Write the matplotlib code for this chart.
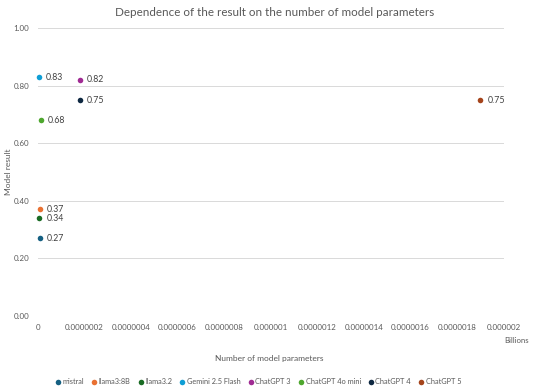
import matplotlib.pyplot as plt
from matplotlib.ticker import FixedLocator, FixedFormatter

plt.rcParams['font.family'] = ['Lato', 'DejaVu Sans']

# Modelle, Parameter (in Billions, skaliert wie im Original) und Ergebnisse
models = ['mistral', 'llama3:8B', 'llama3.2', 'Gemini 2.5 Flash', 'ChatGPT 3',
          'ChatGPT 4o mini', 'ChatGPT 4', 'ChatGPT 5']
params = [8e-9, 8e-9, 7e-9, 6e-9, 1.8e-7, 1.5e-8, 1.8e-7, 1.9e-6]
results = [0.27, 0.37, 0.34, 0.83, 0.82, 0.68, 0.75, 0.75]
colors = ['#156082', '#E97132', '#196B24', '#0F9ED5', '#A02B93',
          '#4EA72E', '#0E2841', '#A5441B']

x_ticks = [0, 2e-7, 4e-7, 6e-7, 8e-7, 1e-6, 1.2e-6, 1.4e-6, 1.6e-6, 1.8e-6, 2e-6]
x_labels = ['0', '0.0000002', '0.0000004', '0.0000006', '0.0000008', '0.000001',
            '0.0000012', '0.0000014', '0.0000016', '0.0000018', '0.000002']
y_ticks = [0, 0.2, 0.4, 0.6, 0.8, 1.0]
y_labels = ['0.00', '0.20', '0.40', '0.60', '0.80', '1.00']

fig = plt.figure(figsize=(5.5, 3.91), dpi=100)
ax = fig.add_axes([0.0685, 0.192, 0.8475, 0.736])

for name, xv, yv, c in zip(models, params, results, colors):
    ax.scatter([xv], [yv], s=16, color=c, label=name, zorder=3, linewidths=0,
               clip_on=False)
    ax.annotate(f'{yv:.2f}', (xv, yv), xytext=(5, 0), textcoords='offset points',
                va='center', ha='left', fontsize=6.3, color='#404040')

ax.set_xlim(0, 2e-6)
ax.set_ylim(0, 1.0)
ax.xaxis.set_major_locator(FixedLocator(x_ticks))
ax.xaxis.set_major_formatter(FixedFormatter(x_labels))
ax.yaxis.set_major_locator(FixedLocator(y_ticks))
ax.yaxis.set_major_formatter(FixedFormatter(y_labels))
ax.tick_params(length=0, labelsize=5.7, colors='#595959', pad=6)
ax.grid(axis='y', color='#d9d9d9', linewidth=0.7)
ax.set_axisbelow(True)
for s in ax.spines.values():
    s.set_visible(False)

fig.suptitle('Dependence of the result on the number of model parameters',
             y=0.982, fontsize=8.4, color='#595959')
fig.text(0.015, 0.56, 'Model result', rotation=90, ha='center', va='center',
         fontsize=6, color='#595959')
fig.text(0.49, 0.083, 'Number of model parameters', ha='center', va='center',
         fontsize=6, color='#595959')
fig.text(0.94, 0.13, 'Billions', ha='center', va='center',
         fontsize=5.6, color='#595959')

leg = fig.legend(loc='center', bbox_to_anchor=(0.47, 0.025), ncol=8, frameon=False,
                 fontsize=5.3, handletextpad=0.3, columnspacing=1.1,
                 markerscale=1.0, handlelength=0.6)
for t in leg.get_texts():
    t.set_color('#595959')

fig.savefig('out.png', dpi=100)
